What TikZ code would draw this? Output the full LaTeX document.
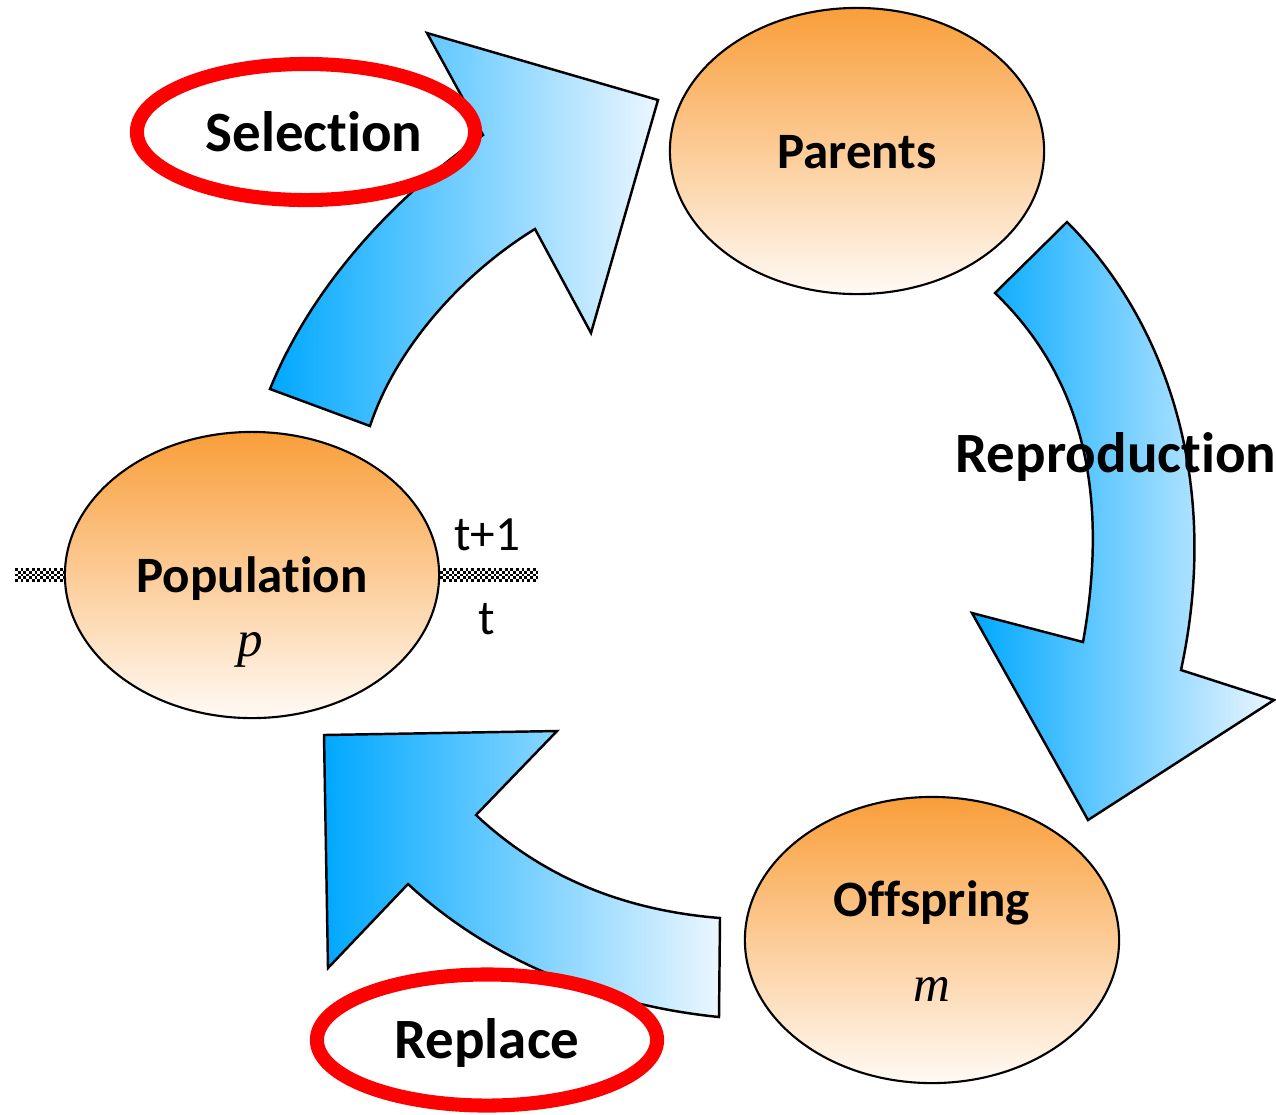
\documentclass[tikz,border=0pt]{standalone}
\usepackage{fontspec}
\setmainfont{Carlito}[Ligatures=NoCommon]
\newfontfamily\serifit{Liberation Serif}
\usetikzlibrary{shapes.geometric}
\definecolor{orangetop}{RGB}{249,158,58}
\definecolor{orangebot}{RGB}{255,250,245}
\definecolor{bluedark}{RGB}{0,168,255}
\definecolor{bluelight}{RGB}{235,246,255}
\begin{document}
\begin{tikzpicture}[x=0.01cm,y=-0.01cm,
  stage/.style={ellipse, draw=black, line width=0.6pt, minimum width=3.74cm, minimum height=2.86cm, top color=orangetop, bottom color=orangebot, inner sep=0pt},
  bigarrow/.style={draw=black, line width=0.7pt, left color=bluedark, right color=bluelight, line join=miter},
  ring/.style={ellipse, draw=red, line width=4pt, inner sep=0pt},
  lbl/.style={font=\fontsize{14.5}{17}\selectfont\bfseries, inner sep=0pt, anchor=base},
  biglbl/.style={font=\fontsize{16.2}{19}\selectfont\bfseries, inner sep=0pt, anchor=base},
  tlbl/.style={font=\fontsize{14}{16}\selectfont, inner sep=0pt, anchor=base},
  var/.style={font=\fontsize{14.5}{17}\selectfont\serifit\itshape, inner sep=0pt, anchor=base},
  cell/.style={fill=black}
]
\useasboundingbox (0,0) rectangle (1276,1114);
% time line (checkered strips)
\foreach \j in {0,...,4}{
  \foreach \k in {0,...,10}{
    \fill[cell] ({15+5.6*\k+2.8*mod(\j,2)}, {568+2.8*\j}) rectangle ++(2.8,2.8);
  }
  \foreach \k in {0,...,18}{
    \fill[cell] ({432+5.6*\k+2.8*mod(\j,2)}, {568+2.8*\j}) rectangle ++(2.8,2.8);
  }
}
% stages
\node[stage] (population) at (252,575) {};
\node[stage] (parents) at (857,151) {};
\node[stage] (offspring) at (932,940) {};
% arrows
\path[bigarrow] (270,389) .. controls (310,290) and (390,200) .. (483,135) -- (427,33) -- (658,100) -- (591,333) -- (535,229) .. controls (460,275) and (395,350) .. (370,426) -- cycle;
\path[bigarrow] (1067,222) .. controls (1165,320) and (1222,480) .. (1181,670) -- (1274,700) -- (1088,820) -- (972,613) -- (1083,642) .. controls (1112,480) and (1075,370) .. (995,293) -- cycle;
\path[bigarrow] (324,735) -- (557,731) -- (476,815) .. controls (540,875) and (620,910) .. (720,918) -- (719,1017) .. controls (600,1005) and (490,960) .. (408,884) -- (328,968) -- cycle;
% rings
\node[ring, minimum width=3.38cm, minimum height=1.36cm] (selring) at (306,132) {};
\node[ring, minimum width=3.40cm, minimum height=1.31cm] (repring) at (487,1040) {};
% labels
\node[lbl] (popT) at (252,592) {Population};
\node[var] (popV) at (250,656) {p};
\node[lbl] (parT) at (857,168) {Parents};
\node[lbl] (offT) at (932,916) {Offspring};
\node[var] (offV) at (932,1001) {m};
\node[biglbl] (selT) at (314,151) {Selection};
\node[biglbl] (repT) at (487,1058) {Replace};
\node[biglbl] (reproT) at (1116,472) {Reproduction};
\node[tlbl] (tnext) at (487,550) {t+1};
\node[tlbl] (tnow) at (487,634) {t};
\end{tikzpicture}
\end{document}
